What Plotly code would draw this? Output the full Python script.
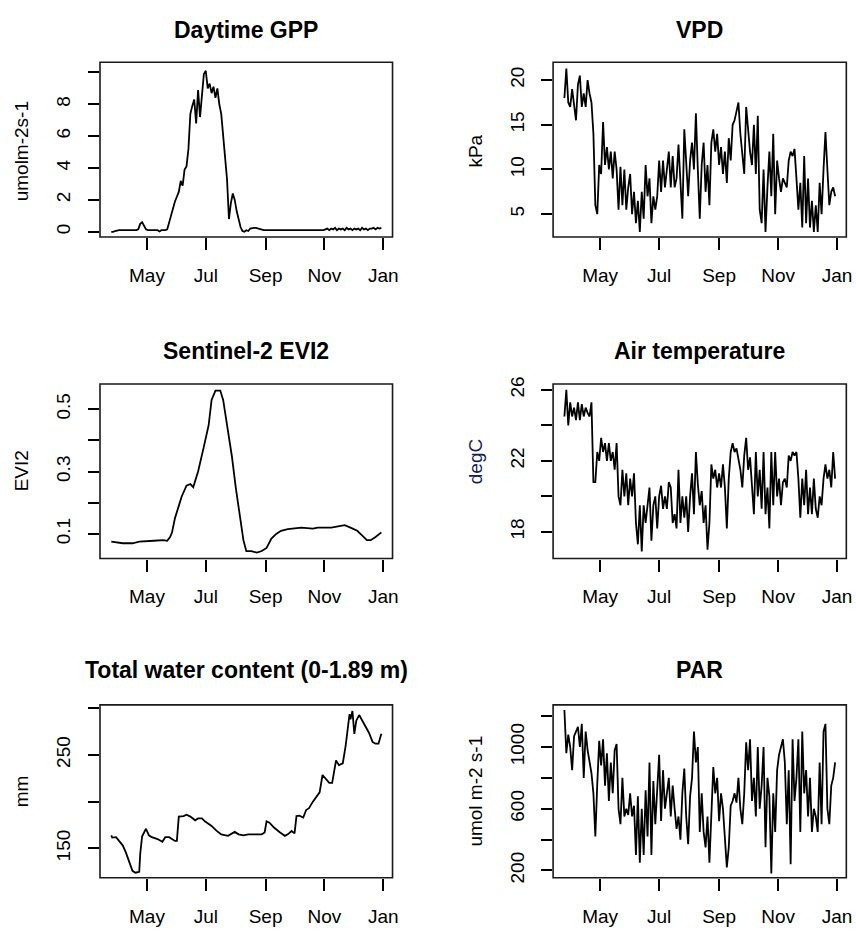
import plotly.graph_objects as go
import pandas as pd

# ---------------- data ----------------
grid_start = "2019-03-25"
grid_end = "2019-12-30"
grid = pd.date_range(grid_start, grid_end, freq="2D")   # 2-day sampling of the daily series

gpp = [0.0, 0.0, 0.05, 0.1, 0.1, 0.1, 0.1, 0.1, 0.1, 0.1,
       0.1, 0.1, 0.1, 0.1, 0.15, 0.5, 0.6, 0.35, 0.15, 0.1,
       0.1, 0.1, 0.1, 0.1, 0.1, 0.02, 0.1, 0.1, 0.1, 0.15,
       0.6, 1.1, 1.6, 1.9, 2.2, 2.5, 3.2, 2.9, 3.9, 4.1,
       5.2, 7.4, 7.9, 8.3, 6.8, 8.9, 7.2, 8.8, 9.9, 10.1,
       9.0, 9.3, 8.7, 9.1, 8.4, 9.0, 8.0, 7.4, 6.1, 4.8,
       3.3, 0.8, 1.8, 2.4, 2.0, 1.3, 0.8, 0.3, 0.05, 0.0,
       0.1, 0.05, 0.2, 0.25, 0.25, 0.25, 0.2, 0.2, 0.1, 0.1,
       0.1, 0.1, 0.1, 0.1, 0.1, 0.1, 0.1, 0.1, 0.1, 0.1,
       0.1, 0.1, 0.1, 0.1, 0.1, 0.1, 0.1, 0.1, 0.1, 0.1,
       0.1, 0.1, 0.1, 0.1, 0.1, 0.1, 0.1, 0.1, 0.1, 0.1,
       0.1, 0.15, 0.2, 0.1, 0.2, 0.15, 0.25, 0.1, 0.2, 0.15,
       0.2, 0.1, 0.25, 0.15, 0.2, 0.1, 0.2, 0.15, 0.2, 0.1,
       0.25, 0.15, 0.2, 0.1, 0.2, 0.2, 0.25, 0.15, 0.25, 0.2,
       0.25]

vpd = [18.0, 21.3, 17.5, 17.0, 19.0, 17.0, 15.5, 19.5, 20.5, 17.0,
       18.5, 17.0, 20.0, 18.5, 17.5, 14.0, 6.0, 5.0, 10.5, 9.5,
       15.3, 10.5, 12.5, 10.0, 12.0, 9.0, 12.0, 10.0, 5.5, 10.3,
       6.0, 10.0, 5.5, 8.0, 9.5, 5.0, 7.5, 4.0, 6.5, 3.0,
       7.5, 4.5, 10.5, 7.0, 9.0, 4.0, 7.0, 5.5, 7.0, 11.0,
       7.5, 11.0, 8.0, 10.0, 12.0, 8.0, 11.5, 8.0, 9.0, 12.8,
       8.5, 4.5, 14.5, 10.5, 7.0, 11.0, 13.0, 10.0, 16.3, 10.0,
       4.5, 10.5, 13.0, 7.5, 10.5, 6.0, 13.0, 14.5, 12.0, 14.0,
       10.5, 12.5, 9.5, 12.0, 8.5, 13.5, 11.0, 15.0, 15.5, 16.5,
       17.5, 14.0, 12.0, 9.5, 17.0, 14.0, 12.0, 10.5, 15.0, 9.5,
       16.0, 5.5, 4.0, 10.0, 3.0, 8.0, 12.0, 7.0, 14.0, 5.0,
       11.0, 9.0, 7.5, 9.0, 8.5, 8.0, 11.0, 12.0, 11.5, 12.3,
       9.0, 5.5, 8.5, 3.5, 11.5, 4.0, 9.0, 3.5, 6.5, 3.0,
       6.0, 3.0, 8.5, 5.0, 10.0, 14.2, 10.0, 6.0, 7.5, 8.0,
       7.0]

tair = [24.5, 26.0, 24.0, 25.3, 24.5, 25.0, 24.3, 25.3, 24.3, 25.2,
        24.5, 25.0, 24.7, 24.5, 25.3, 20.8, 20.8, 22.5, 22.0, 23.3,
        22.5, 23.0, 22.0, 23.0, 22.0, 22.5, 21.5, 23.0, 20.0, 19.5,
        21.5, 20.0, 21.3, 19.5, 21.0, 20.0, 21.3, 18.5, 17.3, 19.5,
        16.9, 19.5, 18.5, 19.5, 20.5, 17.5, 19.5, 20.0, 18.2, 20.0,
        20.6, 19.3, 20.0, 19.3, 20.8, 20.5, 18.5, 19.0, 18.2, 21.5,
        18.5, 20.0, 18.8, 20.0, 18.0, 20.0, 21.3, 19.0, 22.5, 20.7,
        19.5, 20.3, 18.5, 19.5, 17.0, 18.5, 21.8, 21.0, 21.5, 20.5,
        21.3, 20.5, 21.8, 20.5, 18.2, 21.0, 22.5, 23.0, 22.5, 22.7,
        22.0, 21.5, 20.5, 22.3, 23.3, 21.5, 22.2, 20.5, 19.0, 22.5,
        20.0, 21.5, 19.3, 22.5, 19.0, 20.5, 18.2, 22.5, 19.5, 22.5,
        20.0, 21.0, 19.5, 20.8, 21.0, 20.5, 22.3, 22.0, 22.5, 22.3,
        22.5, 21.0, 18.8, 21.0, 19.5, 21.5, 19.0, 20.5, 19.0, 21.0,
        19.3, 18.8, 20.0, 19.5, 21.0, 21.8, 21.0, 21.5, 20.5, 22.5,
        21.0]

par = [1240, 960, 1080, 1000, 850, 1070, 1100, 1130, 1000, 1150,
       800, 1100, 980, 900, 830, 700, 420, 760, 1040, 880,
       1050, 750, 960, 650, 900, 700, 980, 1020, 600, 500,
       800, 550, 600, 560, 700, 550, 620, 300, 680, 250,
       600, 300, 720, 420, 900, 300, 780, 500, 700, 950,
       520, 850, 600, 720, 800, 550, 750, 600, 470, 550,
       400, 700, 860, 550, 370, 680, 800, 1100, 900, 1000,
       450, 700, 450, 350, 550, 250, 600, 870, 700, 800,
       520, 700, 600, 420, 220, 350, 620, 650, 700, 640,
       800, 600, 500, 700, 1030, 850, 1050, 650, 800, 550,
       1000, 600, 750, 1000, 350, 800, 680, 180, 700, 450,
       850, 950, 1000, 1050, 900, 500, 850, 240, 1050, 650,
       800, 1050, 450, 1100, 700, 850, 550, 800, 450, 600,
       550, 450, 900, 500, 1100, 1150, 600, 500, 750, 800,
       900]

evi_doy = [84, 96, 106, 113, 128, 138, 142, 145, 147, 150, 154, 157, 162, 166, 169,
           174, 180, 185, 188, 192, 197, 200, 204, 209, 213, 218, 221, 224, 229, 235,
           240, 245, 250, 255, 260, 267, 274, 281, 293, 298, 312, 319, 326, 332, 339,
           344, 349, 353, 358, 364]
evi2 = [0.075, 0.07, 0.07, 0.075, 0.078, 0.08, 0.078, 0.09, 0.105, 0.15, 0.19, 0.22, 0.255, 0.26, 0.25,
        0.30, 0.38, 0.45, 0.53, 0.56, 0.56, 0.53, 0.45, 0.35, 0.25, 0.15, 0.08, 0.045, 0.045, 0.04,
        0.045, 0.055, 0.085, 0.10, 0.11, 0.115, 0.118, 0.12, 0.117, 0.12, 0.12, 0.125, 0.128, 0.12, 0.11,
        0.095, 0.08, 0.08, 0.09, 0.105]

water_doy = [84, 85, 89, 92, 96, 99, 102, 106, 109, 113, 114, 116, 120, 123, 126,
             132, 137, 140, 144, 150, 152, 154, 159, 162, 166, 171, 174, 178, 181, 188,
             193, 198, 205, 209, 212, 216, 221, 226, 233, 240, 243, 245, 248, 253, 259,
             264, 267, 271, 274, 276, 279, 283, 286, 289, 293, 296, 300, 303, 307, 310,
             313, 317, 320, 324, 327, 329, 331, 332, 334, 336, 338, 341, 344, 348, 351,
             355, 358, 361, 363, 364]
water = [164, 161.6, 162, 158, 153, 146, 137, 126, 124, 125, 144, 163, 171, 164, 162,
         160, 157, 162, 162, 158, 158, 184, 184.5, 186, 184, 180, 182, 182, 179, 174,
         169, 165, 163.5, 166, 167.6, 165, 164, 165, 165, 165, 167, 179, 177.5, 172, 167,
         163.4, 165, 168.6, 166, 184.5, 185, 183, 191, 193, 200, 204, 210, 228.5, 223, 220,
         220, 244, 239, 241, 260, 276, 293.6, 288, 297, 272.5, 286.6, 292.6, 286.6, 280, 274,
         263.7, 262, 262, 270.7, 272.5]

month_ticks = ["2019-05-01", "2019-07-01", "2019-09-01", "2019-11-01", "2020-01-01"]
month_labels = ["May", "Jul", "Sep", "Nov", "Jan"]

titles = ["Daytime GPP", "VPD", "Sentinel-2 EVI2", "Air temperature",
          "Total water content (0-1.89 m)", "PAR"]
ylabels = ["umolm-2s-1", "kPa", "EVI2", "degC", "mm", "umol m-2 s-1"]

gpp_ticks, gpp_tlab = [0, 2, 4, 6, 8, 10], ["0", "2", "4", "6", "8", ""]
vpd_ticks, vpd_tlab = [5, 10, 15, 20], ["5", "10", "15", "20"]
evi_ticks, evi_tlab = [0.1, 0.2, 0.3, 0.4, 0.5], ["0.1", "", "0.3", "", "0.5"]
tair_ticks, tair_tlab = [18, 20, 22, 24, 26], ["18", "", "22", "", "26"]
water_ticks, water_tlab = [150, 200, 250, 300], ["150", "", "250", ""]
par_ticks, par_tlab = [200, 400, 600, 800, 1000, 1200], ["200", "", "600", "", "1000", ""]

# ---------------- layout geometry ----------------
W, H = 856, 936
FONT = "Liberation Sans, Arial, Helvetica, sans-serif"


def doy_to_date(d):
    return pd.Timestamp("2019-01-01") + pd.to_timedelta(d - 1, unit="D")


series = [
    (list(grid[:len(gpp)]), gpp),
    (list(grid[:len(vpd)]), vpd),
    ([doy_to_date(d) for d in evi_doy], evi2),
    (list(grid[:len(tair)]), tair),
    ([doy_to_date(d) for d in water_doy], water),
    (list(grid[:len(par)]), par),
]
yranges = [[-0.33, 10.64], [2.44, 22.0], [0.021, 0.581], [16.5, 26.33], [118.6, 303.5], [153, 1273]]
yticks = [(gpp_ticks, gpp_tlab), (vpd_ticks, vpd_tlab), (evi_ticks, evi_tlab),
          (tair_ticks, tair_tlab), (water_ticks, water_tlab), (par_ticks, par_tlab)]

# pixel boxes (left, right, top, bottom)
cols = [(100.7, 395.3), (557.0, 852.3)]
rows = [(56.0, 233.3), (382.3, 559.3), (707.7, 883.0)]
title_y = [23.0, 348.7, 672.0]
ylab_x = [22.5, 479.0]
ylab_y = [146.0, 146.0, 470.5, 461.0, 795.0, 795.0]

xrange_ = ["2019-03-13 07:30", "2020-01-10 14:00"]

fig = go.Figure()
layout = dict(width=W, height=H, margin=dict(l=0, r=0, t=0, b=0),
              paper_bgcolor="white", plot_bgcolor="white", showlegend=False,
              font=dict(family=FONT, size=19, color="black"))
shapes, annotations = [], []

for k in range(6):
    r, c = k // 2, k % 2
    x0, x1 = cols[c]
    y0, y1 = rows[r]
    n = k + 1
    xa = "xaxis" if n == 1 else f"xaxis{n}"
    ya = "yaxis" if n == 1 else f"yaxis{n}"
    xs, ys = series[k]
    fig.add_trace(go.Scatter(x=xs, y=ys, mode="lines",
                             line=dict(color="black", width=1.8),
                             xaxis="x" if n == 1 else f"x{n}",
                             yaxis="y" if n == 1 else f"y{n}",
                             hoverinfo="skip"))
    layout[xa] = dict(domain=[x0 / W, x1 / W], range=xrange_, type="date",
                      anchor="y" if n == 1 else f"y{n}",
                      tickmode="array", tickvals=month_ticks, ticktext=month_labels,
                      ticks="outside", ticklen=12, tickwidth=1.5, tickcolor="black",
                      showline=False, showgrid=False, zeroline=False,
                      tickfont=dict(family=FONT, size=19, color="black"),
                      ticklabelstandoff=9)
    tv, tt = yticks[k]
    layout[ya] = dict(domain=[1 - y1 / H, 1 - y0 / H], range=yranges[k],
                      anchor="x" if n == 1 else f"x{n}",
                      tickmode="array", tickvals=tv, ticktext=tt, tickangle=-90,
                      ticks="outside", ticklen=11, tickwidth=1.5, tickcolor="black",
                      showline=False, showgrid=False, zeroline=False,
                      tickfont=dict(family=FONT, size=19, color="black"),
                      ticklabelstandoff=10)
    shapes.append(dict(type="rect", xref="paper", yref="paper",
                       x0=x0 / W, x1=x1 / W, y0=1 - y1 / H, y1=1 - y0 / H,
                       line=dict(color="#1a1a1a", width=1.6), fillcolor="rgba(0,0,0,0)",
                       layer="above"))
    annotations.append(dict(text="<b>" + titles[k] + "</b>", xref="paper", yref="paper",
                            x=(x0 + x1) / 2 / W, y=1 - title_y[r] / H,
                            xanchor="center", yanchor="middle", showarrow=False,
                            font=dict(family=FONT, size=23, color="black")))
    annotations.append(dict(text=ylabels[k], xref="paper", yref="paper",
                            x=ylab_x[c] / W, y=1 - ylab_y[k] / H, textangle=-90,
                            xanchor="center", yanchor="middle", showarrow=False,
                            font=dict(family=FONT, size=19,
                                      color="#14205a" if k == 3 else "black")))

layout["shapes"] = shapes
layout["annotations"] = annotations
fig.update_layout(**layout)
fig.write_html("out.html")
